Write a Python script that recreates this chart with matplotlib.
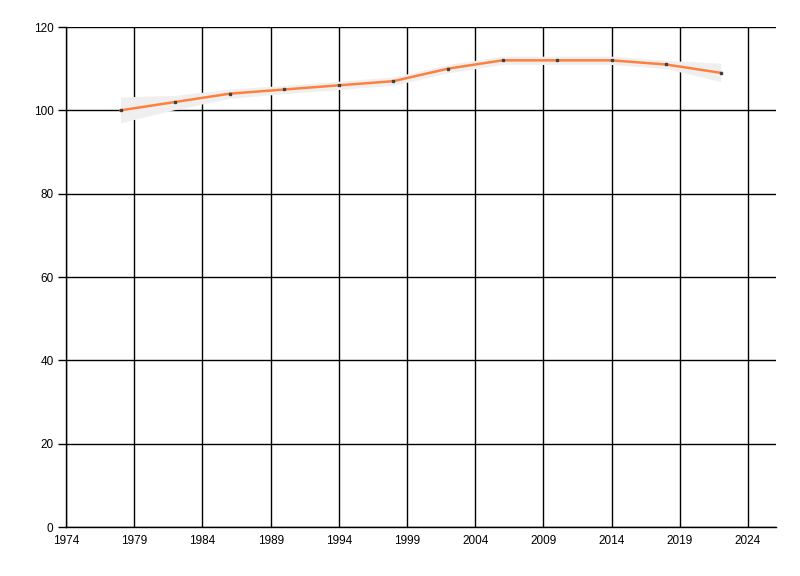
import matplotlib
matplotlib.use("Agg")
import matplotlib.pyplot as plt

years = [1978, 1982, 1986, 1990, 1994, 1998, 2002, 2006, 2010, 2014, 2018, 2022]
values = [100, 102, 104, 105, 106, 107, 110, 112, 112, 112, 111, 109]
lower = [97.0, 100.2, 102.9, 104.0, 105.0, 106.0, 109.0, 111.0, 111.0, 111.0, 110.0, 106.9]
upper = [103.2, 103.6, 105.1, 106.0, 107.0, 108.0, 111.0, 113.0, 113.0, 113.0, 112.0, 111.3]
x_ticks = [1974, 1979, 1984, 1989, 1994, 1999, 2004, 2009, 2014, 2019, 2024]
y_ticks = [0, 20, 40, 60, 80, 100, 120]

plt.rcParams['font.family'] = ['Liberation Sans', 'DejaVu Sans']
fig = plt.figure(figsize=(8, 5.76), dpi=100)
ax = fig.add_axes([66/800, 1-527/576, (776-66)/800, (527-27)/576])

ax.fill_between(years, lower, upper, color='#efefef', lw=0, zorder=2)
ax.plot(years, values, color='#ff7f3f', lw=1.8, zorder=3)
ax.plot(years, values, ls='none', marker='s', ms=1.8, color='#404040', zorder=4)

ax.set_xlim(1974, 2026.05)
ax.set_ylim(0, 120)
ax.set_xticks(x_ticks)
ax.set_yticks(y_ticks)
ax.grid(True, color='black', lw=1, zorder=1)
ax.set_axisbelow(True)
for s in ['top', 'right']:
    ax.spines[s].set_visible(False)
for s in ['left', 'bottom']:
    ax.spines[s].set_linewidth(1)
    ax.spines[s].set_zorder(5)
ax.tick_params(axis='y', length=6, width=1, labelsize=8.5, pad=3)
ax.tick_params(axis='x', length=0, labelsize=8.5, pad=6)

fig.savefig('out.png', dpi=100)
